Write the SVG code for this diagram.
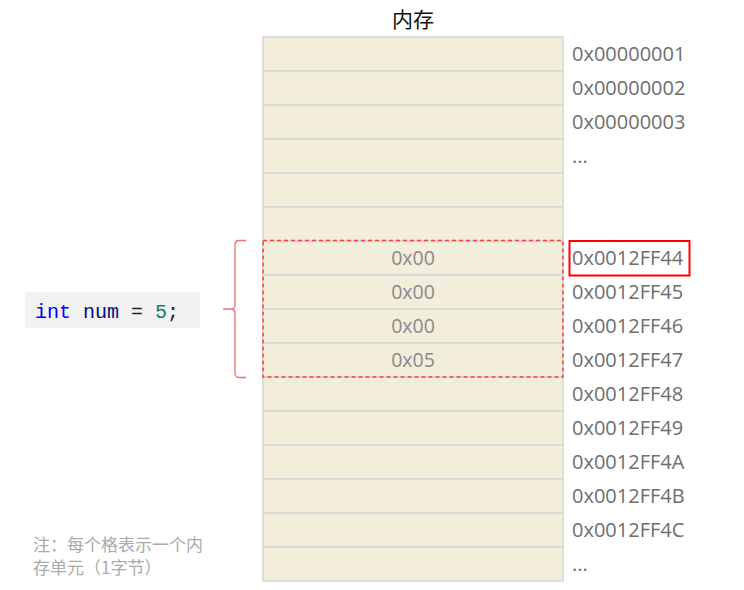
<svg xmlns="http://www.w3.org/2000/svg" width="744" height="590" viewBox="0 0 744 590">
<style>
.cell{fill:#f3eddb;stroke:#d6d6d6;stroke-width:1.5}
.addr{font-family:"Open Sans","Noto Sans",sans-serif;font-size:20px;fill:#6e6e6e}
.val{font-family:"Open Sans","Noto Sans",sans-serif;font-size:19.5px;fill:#8a8a8a;text-anchor:middle}
.note{font-family:"Noto Sans CJK SC",sans-serif;font-size:17px;fill:#aaaaaa}
.code{font-family:"Liberation Mono",monospace;font-size:20px}
</style>
<rect width="744" height="590" fill="#ffffff"/>
<g id="title"><text x="413" y="27" text-anchor="middle" font-family="Noto Sans CJK SC,sans-serif" font-size="21" fill="#111">内存</text></g>
<g id="memory">
<rect class="cell" x="263" y="37" width="300" height="34"/>
<rect class="cell" x="263" y="71" width="300" height="34"/>
<rect class="cell" x="263" y="105" width="300" height="34"/>
<rect class="cell" x="263" y="139" width="300" height="34"/>
<rect class="cell" x="263" y="173" width="300" height="34"/>
<rect class="cell" x="263" y="207" width="300" height="34"/>
<rect class="cell" x="263" y="241" width="300" height="34"/>
<rect class="cell" x="263" y="275" width="300" height="34"/>
<rect class="cell" x="263" y="309" width="300" height="34"/>
<rect class="cell" x="263" y="343" width="300" height="34"/>
<rect class="cell" x="263" y="377" width="300" height="34"/>
<rect class="cell" x="263" y="411" width="300" height="34"/>
<rect class="cell" x="263" y="445" width="300" height="34"/>
<rect class="cell" x="263" y="479" width="300" height="34"/>
<rect class="cell" x="263" y="513" width="300" height="34"/>
<rect class="cell" x="263" y="547" width="300" height="34"/>
<text class="val" x="413" y="265">0x00</text>
<text class="val" x="413" y="299">0x00</text>
<text class="val" x="413" y="333">0x00</text>
<text class="val" x="413" y="367">0x05</text>
</g>
<g id="addresses">
<text class="addr" x="572" y="61">0x00000001</text>
<text class="addr" x="572" y="95">0x00000002</text>
<text class="addr" x="572" y="129">0x00000003</text>
<text class="addr" x="572" y="163">...</text>
<text class="addr" x="572" y="265">0x0012FF44</text>
<text class="addr" x="572" y="299">0x0012FF45</text>
<text class="addr" x="572" y="333">0x0012FF46</text>
<text class="addr" x="572" y="367">0x0012FF47</text>
<text class="addr" x="572" y="401">0x0012FF48</text>
<text class="addr" x="572" y="435">0x0012FF49</text>
<text class="addr" x="572" y="469">0x0012FF4A</text>
<text class="addr" x="572" y="503">0x0012FF4B</text>
<text class="addr" x="572" y="537">0x0012FF4C</text>
<text class="addr" x="572" y="571">...</text>
</g>
<g id="highlight">
<rect x="263" y="240.5" width="300" height="136.5" fill="none" stroke="#ff3b3b" stroke-width="1.5" stroke-dasharray="4 3"/>
<rect x="569.5" y="241" width="120" height="34.5" fill="none" stroke="#ff0000" stroke-width="2"/>
</g>
<g id="connectors">
<path d="M246,240.5 H239 Q235,240.5 235,245 V305 Q235,309 231,309 H223 M231,309 Q235,309 235,313 V373 Q235,377.5 239,377.5 H246" fill="none" stroke="#f07070" stroke-width="1.3"/>
</g>
<g id="code">
<rect x="25" y="292" width="175" height="36" fill="#f2f2f2"/>
<text class="code" x="35" y="318"><tspan fill="#0000ff">int</tspan><tspan fill="#001080"> num</tspan><tspan fill="#222"> = </tspan><tspan fill="#098658">5</tspan><tspan fill="#222">;</tspan></text>
</g>
<g id="note">
<text class="note" x="33" y="551">注：每个格表示一个内</text>
<text class="note" x="33" y="574">存单元（1字节）</text>
</g>
</svg>
